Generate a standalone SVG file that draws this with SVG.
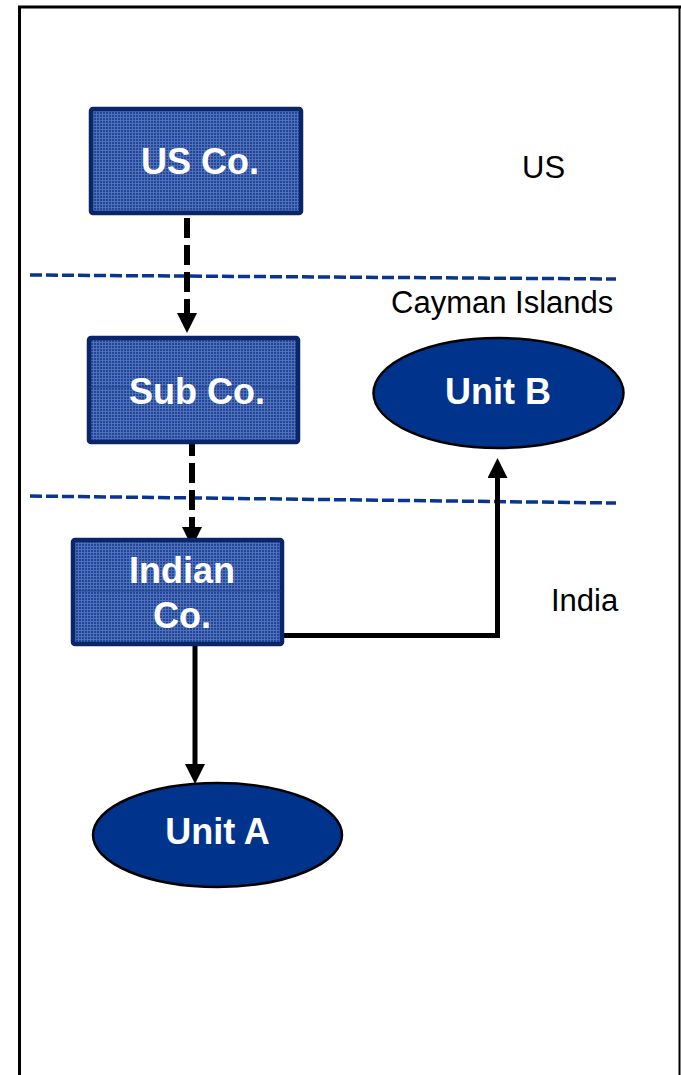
<svg xmlns="http://www.w3.org/2000/svg" width="681" height="1075" viewBox="0 0 681 1075">
  <defs>
    <style>
      .box { fill: url(#grid); stroke: #0a2568; stroke-width: 4.5; }
      .oval { fill: #00338c; stroke: #000; stroke-width: 2.5; }
      .title { font-family: "Liberation Sans", Arial, sans-serif; font-weight: bold; font-size: 36px; fill: #fff; text-anchor: middle; }
      .region { font-family: "Liberation Sans", Arial, sans-serif; font-size: 31px; fill: #000; }
      .border { fill: none; stroke: #000; }
      .boundary { fill: none; stroke: #083592; stroke-width: 3.5; stroke-dasharray: 12 4; }
      .flow { fill: none; stroke: #000; stroke-width: 5; }
      .flow-dash { fill: none; stroke: #000; stroke-width: 6; stroke-dasharray: 20 7; }
    </style>
    <!-- fine lattice fill for the company boxes -->
    <pattern id="grid" width="3" height="3" patternUnits="userSpaceOnUse">
      <rect width="3" height="3" fill="#22469a"/>
      <rect x="0" y="0" width="3" height="1" fill="#5070b8"/>
      <rect x="0" y="0" width="1" height="3" fill="#5070b8"/>
    </pattern>
    <marker id="head" viewBox="0 0 20 20" markerWidth="20" markerHeight="20" markerUnits="userSpaceOnUse" refX="0" refY="10" orient="auto">
      <path d="M0,0 L20,10 L0,20 z" fill="#000"/>
    </marker>
  </defs>

  <rect width="681" height="1075" fill="#fff"/>

  <!-- page frame -->
  <g id="frame">
    <path class="border" d="M19.5,1075 V7 H681" stroke-width="3"/>
    <line class="border" x1="679.5" y1="7" x2="679.5" y2="1075" stroke-width="2"/>
  </g>

  <!-- jurisdiction boundaries -->
  <g id="boundaries">
    <line class="boundary" x1="30" y1="275" x2="616" y2="279"/>
    <line class="boundary" x1="30" y1="496" x2="616" y2="503"/>
  </g>

  <!-- jurisdiction labels -->
  <g id="labels">
    <text class="region" x="522" y="178">US</text>
    <text class="region" x="391" y="313">Cayman Islands</text>
    <text class="region" x="551" y="611">India</text>
  </g>

  <g id="connectors">
    <line class="flow-dash" x1="187" y1="218" x2="187" y2="313" marker-end="url(#head)"/>
    <line class="flow-dash" x1="192" y1="436" x2="192" y2="527" marker-end="url(#head)"/>
    <line class="flow" x1="195" y1="645" x2="195" y2="764" marker-end="url(#head)"/>
    <path class="flow" d="M283,635.5 H497.5 V478" marker-end="url(#head)"/>
  </g>

  <g id="us-co">
    <rect class="box" x="91" y="109" width="210" height="104" rx="2"/>
    <text class="title" x="200" y="174">US Co.</text>
  </g>

  <g id="sub-co">
    <rect class="box" x="89" y="338" width="209" height="104" rx="2"/>
    <line x1="89" y1="387" x2="298" y2="387" stroke="#1a3a86" stroke-width="0.8"/>
    <text class="title" x="197" y="404">Sub Co.</text>
  </g>

  <g id="indian-co">
    <rect class="box" x="73" y="540" width="209" height="104" rx="2"/>
    <line x1="73" y1="591" x2="282" y2="591" stroke="#1a3a86" stroke-width="0.8"/>
    <text class="title" x="182" y="583">Indian</text>
    <text class="title" x="182" y="628">Co.</text>
  </g>

  <g id="unit-b">
    <ellipse class="oval" cx="498.5" cy="393" rx="125" ry="55"/>
    <text class="title" x="498" y="404">Unit B</text>
  </g>

  <g id="unit-a">
    <ellipse class="oval" cx="217.5" cy="835" rx="124.5" ry="52"/>
    <text class="title" x="217.5" y="844">Unit A</text>
  </g>
</svg>
